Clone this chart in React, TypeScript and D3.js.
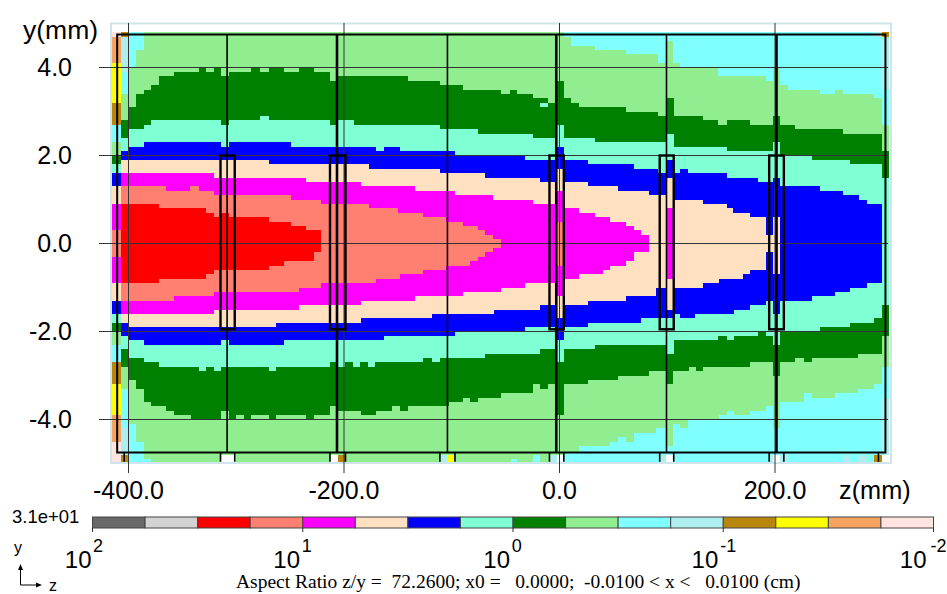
import React, { useRef, useEffect } from 'react';
import * as d3 from 'd3';

type Step = [number, number];

// colour bar, from 10^2 down to 10^-2
const barColors = ['#696969', '#d3d3d3', '#ff0000', '#ff8070', '#ff00ff', '#ffe0c0', '#0000ff', '#7fffd4', '#008000', '#90ee90', '#7fffff', '#afeeee', '#b8860b', '#ffff00', '#f4a460', '#ffe4e1'];
const barTicks = [100, 10, 1, 0.1, 0.01];
const barExponents = ['2', '1', '0', '-1', '-2'];
// labels don't sit exactly on their ticks in the original
const barBaseShift = [-1, -2.7, -3, -5, -7];
const barExpShift = [0.5, -1, -1.3, -3, -3];

const zTicks = [-400, -200, 0, 200];
const yTicks = [4, 2, 0, -2, -4];

// contour steps [z mm, y mm]: each level is the edge of the region at or above that colour
const sandyTop: Step[] = [[-415, 4.7], [-407, 4.8]];
const sandyBot: Step[] = [[-415, -4.5], [-407, -4.96]];
const yellowTop: Step[] = [[-415, 4.1], [-407, 4.8]];
const yellowBot: Step[] = [[-415, -3.9], [-407, -4.96]];
const goldTop: Step[] = [[-415, 3.2], [-407, 4.8]];
const goldBot: Step[] = [[-415, -3.2], [-407, -4.96]];
const paleTop: Step[] = [[-415, 2.7], [-407, 4.7], [-400, 4.8], [299, 4.7]];
const paleBot: Step[] = [[-415, -2.7], [-407, -4.8], [-400, -4.96]];
const cyanTop: Step[] = [[-415, 2.7], [-407, 3.9], [-400, 4.8], [292, 4.7], [299, 3.5]];
const cyanBot: Step[] = [[-415, -2.7], [-407, -4.2], [-400, -4.96], [299, -3.5]];
const lightGreenTop: Step[] = [[-415, 2.3], [-407, 3.4], [-400, 4.0], [-393, 4.4], [-386, 4.8], [4, 4.7], [11, 4.5], [33, 4.4], [62, 4.3], [91, 4.1], [100, 4.6], [105, 4.1], [112, 4.0], [147, 3.8], [192, 3.7], [198, 4.0], [205, 3.6], [212, 3.5], [242, 3.4], [256, 3.5], [263, 3.4], [292, 3.3], [299, 2.7]];
const lightGreenBot: Step[] = [[-415, -2.3], [-407, -3.3], [-400, -4.1], [-393, -4.5], [-386, -4.9], [-379, -4.96], [-45, -4.9], [-39, -4.96], [-25, -4.8], [-18, -4.96], [4, -4.75], [18, -4.6], [47, -4.5], [54, -4.4], [62, -4.5], [69, -4.3], [90, -4.2], [100, -4.6], [105, -4.1], [112, -4.2], [119, -4.0], [148, -3.9], [155, -3.8], [162, -3.9], [177, -3.8], [192, -3.7], [198, -4.2], [205, -3.6], [227, -3.4], [234, -3.5], [256, -3.4], [277, -3.3], [292, -3.2], [299, -2.8]];
const greenTop: Step[] = [[-415, 2.0], [-407, 2.8], [-400, 3.1], [-393, 3.4], [-386, 3.5], [-379, 3.6], [-372, 3.8], [-358, 3.9], [-335, 4.0], [-328, 3.9], [-321, 4.0], [-314, 3.8], [-307, 3.9], [-286, 4.0], [-278, 3.9], [-270, 4.0], [-256, 3.9], [-242, 4.0], [-228, 3.9], [-213, 3.7], [-206, 3.8], [-141, 3.7], [-111, 3.6], [-90, 3.5], [-54, 3.4], [-46, 3.5], [-39, 3.4], [-25, 3.3], [-11, 3.2], [-2, 3.7], [4, 3.3], [11, 3.2], [18, 3.1], [62, 3.0], [91, 2.9], [100, 3.3], [106, 2.9], [133, 2.8], [147, 2.7], [155, 2.8], [177, 2.7], [198, 2.9], [205, 2.7], [219, 2.6], [263, 2.5], [299, 2.1]];
const greenBot: Step[] = [[-415, -2.0], [-407, -2.8], [-400, -3.1], [-393, -3.3], [-386, -3.6], [-379, -3.7], [-365, -3.8], [-358, -3.9], [-342, -4.0], [-314, -3.8], [-307, -4.0], [-300, -3.9], [-293, -4.0], [-286, -3.9], [-270, -4.0], [-263, -3.9], [-235, -4.0], [-228, -3.9], [-213, -3.7], [-206, -3.8], [-184, -3.9], [-170, -3.8], [-155, -3.7], [-148, -3.8], [-141, -3.7], [-103, -3.6], [-90, -3.5], [-83, -3.6], [-76, -3.5], [-54, -3.4], [-25, -3.2], [-18, -3.3], [-11, -3.2], [-2, -3.9], [4, -3.2], [26, -3.1], [54, -3.0], [83, -2.9], [100, -3.2], [105, -2.9], [120, -2.8], [127, -2.9], [133, -2.8], [177, -2.7], [198, -3.0], [205, -2.7], [219, -2.6], [227, -2.7], [234, -2.6], [277, -2.5], [299, -2.1]];
const aquaTop: Step[] = [[-415, 1.8], [-407, 2.4], [-400, 2.6], [-386, 2.7], [-379, 2.8], [-314, 2.7], [-307, 2.8], [-278, 2.9], [-270, 2.8], [-213, 2.7], [-206, 2.8], [-191, 2.7], [-111, 2.6], [-76, 2.5], [-25, 2.4], [-2, 2.7], [4, 2.4], [33, 2.3], [100, 2.5], [106, 2.2], [155, 2.1], [198, 2.3], [205, 2.0], [234, 1.9], [270, 1.8], [299, 1.5]];
const aquaBot: Step[] = [[-415, -1.8], [-407, -2.4], [-400, -2.6], [-386, -2.7], [-372, -2.8], [-335, -2.9], [-328, -2.8], [-321, -2.9], [-314, -2.8], [-270, -2.9], [-263, -2.8], [-213, -2.7], [-206, -2.8], [-199, -2.7], [-192, -2.8], [-185, -2.7], [-178, -2.8], [-171, -2.7], [-127, -2.6], [-118, -2.7], [-111, -2.6], [-69, -2.5], [-18, -2.4], [-2, -2.7], [4, -2.4], [33, -2.3], [100, -2.5], [106, -2.2], [147, -2.1], [155, -2.2], [162, -2.1], [184, -2.0], [192, -2.1], [198, -2.3], [205, -2.0], [242, -1.9], [270, -1.8], [292, -1.7], [299, -1.4]];
const blueTop: Step[] = [[-415, 1.6], [-407, 2.1], [-400, 2.2], [-386, 2.3], [-314, 2.2], [-307, 2.3], [-249, 2.2], [-170, 2.1], [-163, 2.2], [-148, 2.1], [-97, 2.0], [-32, 1.9], [-2, 2.2], [4, 1.9], [26, 1.8], [69, 1.7], [91, 1.6], [100, 1.9], [106, 1.6], [112, 1.7], [119, 1.6], [155, 1.5], [184, 1.4], [198, 1.5], [205, 1.3], [242, 1.2], [263, 1.1], [278, 1.0], [285, 0.9], [299, 0]];
const blueBot: Step[] = [[-415, -1.6], [-407, -2.1], [-400, -2.2], [-386, -2.3], [-314, -2.2], [-307, -2.3], [-256, -2.2], [-163, -2.1], [-97, -2.0], [-32, -1.9], [-2, -2.2], [4, -1.9], [26, -1.8], [76, -1.7], [106, -1.6], [112, -1.7], [126, -1.6], [162, -1.5], [177, -1.4], [192, -1.3], [198, -1.6], [205, -1.3], [234, -1.2], [256, -1.1], [270, -1.0], [285, -0.9], [299, 0]];
const peachTop: Step[] = [[-415, 1.3], [-407, 1.9], [-270, 1.8], [-177, 1.7], [-111, 1.6], [-69, 1.5], [-18, 1.4], [-2, 1.7], [4, 1.4], [26, 1.3], [54, 1.2], [83, 1.1], [100, 1.5], [106, 1.0], [133, 0.9], [155, 0.8], [161, 0.7], [177, 0.6], [192, 0.2], [198, 0.6], [205, 0]];
const peachBot: Step[] = [[-415, -1.3], [-407, -1.8], [-400, -1.9], [-263, -1.8], [-184, -1.7], [-118, -1.6], [-61, -1.5], [-18, -1.4], [-2, -1.7], [4, -1.4], [26, -1.3], [62, -1.2], [90, -1.0], [100, -1.5], [105, -1.0], [133, -0.9], [148, -0.8], [170, -0.7], [177, -0.6], [192, -0.2], [198, -0.7], [205, 0]];
const magentaTop: Step[] = [[-415, 0.9], [-407, 1.6], [-321, 1.5], [-235, 1.4], [-184, 1.3], [-134, 1.2], [-97, 1.1], [-62, 1.0], [-25, 0.9], [-2, 1.2], [4, 0.8], [18, 0.7], [33, 0.6], [47, 0.5], [62, 0.4], [69, 0.3], [76, 0.2], [83, 0], [100, 0.8], [106, 0]];
const magentaBot: Step[] = [[-415, -0.9], [-407, -1.6], [-321, -1.5], [-242, -1.4], [-184, -1.3], [-134, -1.2], [-90, -1.1], [-54, -1.0], [-32, -0.9], [-2, -1.2], [4, -0.8], [18, -0.7], [40, -0.6], [47, -0.5], [62, -0.4], [69, -0.2], [83, 0], [100, -0.8], [106, 0]];
const salmonTop: Step[] = [[-415, 0.3], [-407, 1.3], [-365, 1.2], [-343, 1.3], [-335, 1.2], [-321, 1.1], [-249, 1.0], [-221, 0.9], [-177, 0.8], [-150, 0.7], [-127, 0.6], [-105, 0.5], [-90, 0.4], [-76, 0.3], [-69, 0.2], [-62, 0.1], [-54, 0], [-2, 0.5], [4, 0]];
const salmonBot: Step[] = [[-415, -0.3], [-407, -1.3], [-358, -1.2], [-321, -1.1], [-242, -1.0], [-221, -0.9], [-170, -0.8], [-148, -0.7], [-127, -0.6], [-105, -0.5], [-83, -0.4], [-76, -0.3], [-69, -0.2], [-62, -0.1], [-54, 0], [-2, -0.5], [4, 0]];
const redTop: Step[] = [[-415, 0], [-407, 0.9], [-372, 0.8], [-328, 0.7], [-321, 0.6], [-314, 0.7], [-307, 0.6], [-270, 0.5], [-249, 0.4], [-235, 0.3], [-221, 0]];
const redBot: Step[] = [[-415, 0], [-407, -0.9], [-372, -0.8], [-328, -0.7], [-321, -0.6], [-270, -0.5], [-256, -0.4], [-228, -0.2], [-221, 0]];

// single cells that stick out of the contours: z from, z to, y from, y to, colour
const loneCells: [number, number, number, number, string][] = [
  [-18, -11, 3.2, 3.1, '#7fffd4'],
  [-314, -300, -4.8, -4.96, '#ffffff'],
  [-213, -206, -4.8, -4.96, '#ffffff'],
  [-206, -199, -4.8, -4.96, '#b8860b'],
  [-111, -104, -4.8, -4.96, '#afeeee'],
  [-104, -99, -4.8, -4.96, '#ffff00'],
  [-99, -97, -4.8, -4.96, '#afeeee'],
  [-10, -2, -4.8, -4.96, '#afeeee'],
  [-2, 4, -4.8, -4.96, '#ffffff'],
  [93, 99, -4.8, -4.96, '#afeeee'],
  [99, 106, -4.8, -4.96, '#ffffff'],
  [194, 198, -4.8, -4.96, '#afeeee'],
  [198, 205, -4.8, -4.96, '#ffffff'],
  [205, 212, -4.8, -4.96, '#afeeee'],
  [263, 270, -4.8, -4.96, '#afeeee'],
  [277, 285, -4.8, -4.96, '#afeeee'],
  [292, 299, -4.8, -4.96, '#b8860b'],
  [299, 306, -4.8, -4.96, '#ffffff'],
];

// magnet outline
const outline = { z0: -410.5, z1: 302.5, y0: -4.75, y1: 4.75 };
const thinSections = [-308.5, -104, 99.3];
const thickSections = [-206.5, -3, 201.4];
const boxes: [number, number][] = [[-314.6, -301.4], [-213, -198.6], [-9.3, 4], [93, 106], [194.6, 208.2]];
const stubs = [-404, -314.6, -301.4, -213, -198.6, -111, -97, -9.3, 4, 93, 106, 194.6, 208.2, 296];

const levels: [string, Step[], Step[]][] = [
  ['#f4a460', sandyTop, sandyBot],
  ['#ffff00', yellowTop, yellowBot],
  ['#b8860b', goldTop, goldBot],
  ['#afeeee', paleTop, paleBot],
  ['#7fffff', cyanTop, cyanBot],
  ['#90ee90', lightGreenTop, lightGreenBot],
  ['#008000', greenTop, greenBot],
  ['#7fffd4', aquaTop, aquaBot],
  ['#0000ff', blueTop, blueBot],
  ['#ffe0c0', peachTop, peachBot],
  ['#ff00ff', magentaTop, magentaBot],
  ['#ff8070', salmonTop, salmonBot],
  ['#ff0000', redTop, redBot],
];

const sans = '"Liberation Sans", Arial, sans-serif';

export default function App() {
  const svgRef = useRef<SVGSVGElement>(null);

  useEffect(() => {
    const svg = d3.select(svgRef.current);
    svg.selectAll('*').remove();

    const x = d3.scaleLinear().domain([-400, 200]).range([128.5, 775]);
    const y = d3.scaleLinear().domain([4, -4]).range([67.5, 419.5]);
    const zEnd = 306;

    // frame
    svg.append('rect').attr('x', 111).attr('y', 23.5).attr('width', 780).attr('height', 439.5)
      .attr('fill', '#fff').attr('stroke', '#cfe5ec').attr('stroke-width', 2);

    // field
    const field = svg.append('g').attr('shape-rendering', 'crispEdges');
    field.append('rect')
      .attr('x', x(-415)).attr('width', x(zEnd) - x(-415))
      .attr('y', y(4.8)).attr('height', y(-4.96) - y(4.8))
      .attr('fill', '#ffe4e1');

    const area = d3.area<Step>()
      .x(d => x(d[0]))
      .y0(y(0))
      .y1(d => y(d[1]))
      .curve(d3.curveStepAfter);

    levels.forEach(([color, top, bot]) => {
      [top, bot].forEach(steps => {
        const last = steps[steps.length - 1];
        field.append('path')
          .attr('d', area([...steps, [zEnd, last[1]]]))
          .attr('fill', color);
      });
    });

    field.selectAll('rect.cell')
      .data(loneCells)
      .enter().append('rect')
      .attr('class', 'cell')
      .attr('x', d => x(d[0]))
      .attr('width', d => x(d[1]) - x(d[0]))
      .attr('y', d => y(d[2]))
      .attr('height', d => y(d[3]) - y(d[2]))
      .attr('fill', d => d[4]);

    // axis lines
    const lines = svg.append('g');
    lines.selectAll('line.h')
      .data(yTicks)
      .enter().append('line')
      .attr('class', 'h')
      .attr('x1', 99).attr('x2', 888)
      .attr('y1', d => y(d)).attr('y2', d => y(d))
      .attr('stroke', '#333').attr('stroke-width', 1);
    lines.selectAll('line.v')
      .data(zTicks)
      .enter().append('line')
      .attr('class', 'v')
      .attr('x1', d => x(d)).attr('x2', d => x(d))
      .attr('y1', 23).attr('y2', 473)
      .attr('stroke', '#333').attr('stroke-width', 1);

    // magnet outline
    const geom = svg.append('g').attr('fill', 'none').attr('stroke', '#000');
    geom.append('rect')
      .attr('x', x(outline.z0)).attr('width', x(outline.z1) - x(outline.z0))
      .attr('y', y(outline.y1)).attr('height', y(outline.y0) - y(outline.y1))
      .attr('stroke-width', 2);
    geom.selectAll('line.sec')
      .data(thinSections)
      .enter().append('line')
      .attr('class', 'sec')
      .attr('x1', d => x(d)).attr('x2', d => x(d))
      .attr('y1', y(outline.y1)).attr('y2', y(outline.y0))
      .attr('stroke-width', 1.6);
    geom.selectAll('line.sec2')
      .data(thickSections)
      .enter().append('line')
      .attr('class', 'sec2')
      .attr('x1', d => x(d)).attr('x2', d => x(d))
      .attr('y1', y(outline.y1)).attr('y2', y(outline.y0))
      .attr('stroke-width', 2.6);
    geom.selectAll('rect.box')
      .data(boxes)
      .enter().append('rect')
      .attr('class', 'box')
      .attr('x', d => x(d[0]))
      .attr('width', d => x(d[1]) - x(d[0]))
      .attr('y', y(2))
      .attr('height', y(-1.95) - y(2))
      .attr('stroke-width', 2.4);
    geom.selectAll('line.stub')
      .data(stubs)
      .enter().append('line')
      .attr('class', 'stub')
      .attr('x1', d => x(d)).attr('x2', d => x(d))
      .attr('y1', y(outline.y0)).attr('y2', y(-4.96))
      .attr('stroke-width', 1.6);

    // tick labels
    svg.selectAll('text.zt')
      .data(zTicks)
      .enter().append('text')
      .attr('class', 'zt')
      .attr('x', d => x(d))
      .attr('y', 499)
      .attr('text-anchor', 'middle')
      .style('font', `25px ${sans}`)
      .text(d => d.toFixed(1));
    svg.selectAll('text.yt')
      .data(yTicks)
      .enter().append('text')
      .attr('class', 'yt')
      .attr('x', 72)
      .attr('y', d => y(d) + 8.5)
      .attr('text-anchor', 'end')
      .style('font', `25px ${sans}`)
      .text(d => d.toFixed(1));
    svg.append('text').attr('x', 23).attr('y', 39).style('font', `26.5px ${sans}`).text('y(mm)');
    svg.append('text').attr('x', 839).attr('y', 498.5).style('font', `25.3px ${sans}`).text('z(mm)');

    // colour bar
    const bar = d3.scaleLog().domain([100, 0.01]).range([92.5, 933.5]);
    const cell = (bar(0.01) - bar(100)) / barColors.length;
    svg.selectAll('rect.bar')
      .data(barColors)
      .enter().append('rect')
      .attr('class', 'bar')
      .attr('x', (_, i) => bar(100) + i * cell)
      .attr('y', 517)
      .attr('width', cell)
      .attr('height', 11)
      .attr('fill', d => d)
      .attr('stroke', '#444')
      .attr('stroke-width', 1);
    svg.selectAll('line.bt')
      .data(barTicks)
      .enter().append('line')
      .attr('class', 'bt')
      .attr('x1', d => bar(d)).attr('x2', d => bar(d))
      .attr('y1', 528).attr('y2', 532)
      .attr('stroke', '#333');
    svg.selectAll('text.bt')
      .data(barTicks)
      .enter().append('text')
      .attr('class', 'bt')
      .attr('x', (d, i) => bar(d) + barBaseShift[i])
      .attr('y', 568)
      .attr('text-anchor', 'end')
      .style('font', `24px ${sans}`)
      .text('10');
    svg.selectAll('text.be')
      .data(barExponents)
      .enter().append('text')
      .attr('class', 'be')
      .attr('x', (_, i) => bar(barTicks[i]) + barExpShift[i])
      .attr('y', 552)
      .style('font', `18px ${sans}`)
      .text(d => d);
    svg.append('text').attr('x', 12).attr('y', 523).style('font', `18.5px ${sans}`).text('3.1e+01');

    // axes triad
    svg.append('text').attr('x', 14).attr('y', 553).style('font', `16px ${sans}`).text('y');
    svg.append('text').attr('x', 49).attr('y', 591).style('font', `16px ${sans}`).text('z');
    svg.append('path').attr('d', 'M20.5 565V585H38').attr('fill', 'none').attr('stroke', '#000');
    svg.append('path').attr('d', 'M20.5 564l-2.5 6h5zM42 585l-6 -2.5v5z').attr('fill', '#000');

    svg.append('text')
      .attr('x', 236).attr('y', 588)
      .style('white-space', 'pre')
      .style('font', '19.5px "Liberation Serif", "Times New Roman", serif')
      .text('Aspect Ratio z/y =  72.2600; x0 =   0.0000;  -0.0100 < x <   0.0100 (cm)');
  }, []);

  return (
    <svg ref={svgRef} width={947} height={594} style={{ position: 'absolute', left: 0, top: 0, background: '#fff' }} />
  );
}
